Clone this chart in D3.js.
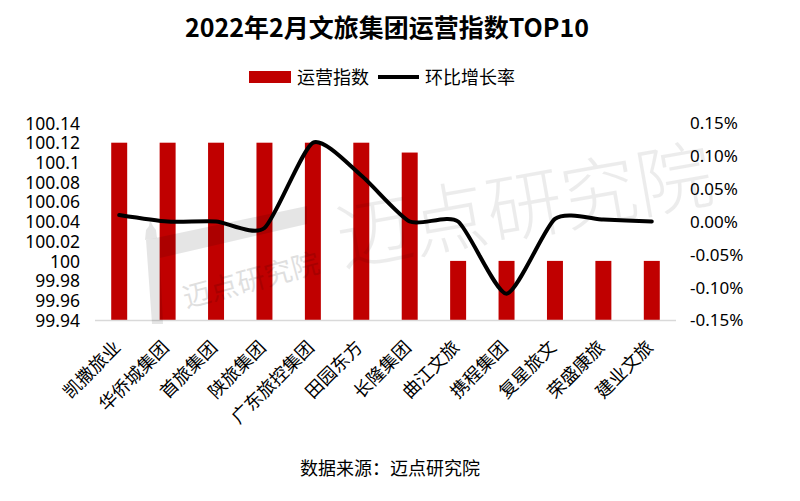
<!DOCTYPE html>
<html>
<head>
<meta charset="utf-8">
<script src="https://cdn.jsdelivr.net/npm/d3@7"></script>
<style>
  body { margin: 0; background: #fff; }
  text { font-family: "Noto Sans CJK SC", "Noto Sans", sans-serif; }
</style>
</head>
<body>
<div id="chart"></div>
<script>
// data
const categories = ["凯撒旅业", "华侨城集团", "首旅集团", "陕旅集团", "广东旅控集团", "田园东方",
  "长隆集团", "曲江文旅", "携程集团", "复星旅文", "荣盛康旅", "建业文旅"];
const indexValues = [100.12, 100.12, 100.12, 100.12, 100.12, 100.12, 100.11, 100, 100, 100, 100, 100];
const growthValues = [0.01, 0.00, 0.00, -0.01, 0.12, 0.07, 0.00, 0.00, -0.11, 0.004, 0.003, 0.00]; // in %
const leftTicks = [99.94, 99.96, 99.98, 100, 100.02, 100.04, 100.06, 100.08, 100.1, 100.12, 100.14];
const rightTicks = [-0.15, -0.10, -0.05, 0, 0.05, 0.10, 0.15];

const width = 800, height = 501;
const plot = { left: 95, right: 676, top: 123, bottom: 320 };

const svg = d3.select("#chart").append("svg")
  .attr("width", width)
  .attr("height", height);

const x = d3.scaleBand()
  .domain(categories)
  .range([plot.left, plot.right])
  .padding(0);

const barW = x.bandwidth() * 0.33;

const yL = d3.scaleLinear()
  .domain([99.94, 100.14])
  .range([plot.bottom, plot.top]);

const yR = d3.scaleLinear()
  .domain([-0.15, 0.15])
  .range([plot.bottom, plot.top]);

// title
svg.append("text")
  .attr("x", 387).attr("y", 37)
  .attr("text-anchor", "middle")
  .style("font-size", "25px")
  .style("font-weight", "bold")
  .text("2022年2月文旅集团运营指数TOP10");

// legend
const legend = svg.append("g");
legend.append("rect")
  .attr("x", 249).attr("y", 71).attr("width", 42).attr("height", 12)
  .attr("fill", "#c00000");
legend.append("text")
  .attr("x", 297).attr("y", 84)
  .style("font-size", "18px")
  .text("运营指数");
legend.append("line")
  .attr("x1", 378).attr("x2", 419).attr("y1", 77).attr("y2", 77)
  .attr("stroke", "#000").attr("stroke-width", 4);
legend.append("text")
  .attr("x", 425).attr("y", 84)
  .style("font-size", "18px")
  .text("环比增长率");

// left axis
const axL = svg.append("g")
  .attr("transform", `translate(${plot.left - 12},0)`)
  .call(d3.axisLeft(yL).tickValues(leftTicks).tickSize(0).tickFormat(d => String(+d.toFixed(2))));
axL.select(".domain").remove();
axL.selectAll("text")
  .attr("dy", "0.35em")
  .style("font-size", "17.5px")
  .style("font-family", "'Noto Sans', sans-serif")
  .attr("fill", "#000");

// right axis
const axR = svg.append("g")
  .attr("transform", `translate(${plot.right + 11},0)`)
  .call(d3.axisRight(yR).tickValues(rightTicks).tickSize(0).tickFormat(d => d.toFixed(2) + "%"));
axR.select(".domain").remove();
axR.selectAll("text")
  .attr("dy", "0.35em")
  .style("font-size", "17px")
  .style("font-family", "'Noto Sans', sans-serif")
  .attr("fill", "#000");

// bars
svg.append("g")
  .selectAll("rect")
  .data(categories)
  .join("rect")
  .attr("x", d => x(d) + (x.bandwidth() - barW) / 2)
  .attr("width", barW)
  .attr("y", (d, i) => yL(indexValues[i]))
  .attr("height", (d, i) => plot.bottom - yL(indexValues[i]))
  .attr("fill", "#c00000");

// baseline
svg.append("line")
  .attr("x1", plot.left).attr("x2", plot.right)
  .attr("y1", plot.bottom + 0.5).attr("y2", plot.bottom + 0.5)
  .attr("stroke", "#d9d9d9").attr("stroke-width", 1.5);

// growth line
const line = d3.line()
  .x((d, i) => x(categories[i]) + x.bandwidth() / 2)
  .y(d => yR(d))
  .curve(d3.curveCardinal.tension(0.35));

svg.append("path")
  .datum(growthValues)
  .attr("d", line)
  .attr("fill", "none")
  .attr("stroke", "#000")
  .attr("stroke-width", 4)
  .attr("stroke-linecap", "round");

// watermark
const wm = svg.append("g").attr("pointer-events", "none");
wm.append("path")
  .attr("d", "M146,240 L307,206 L307,224 L160,258 L163,324 L152,324 Z")
  .attr("fill", "#000").attr("opacity", 0.1);
wm.append("path")
  .attr("d", "M145,240 L146,230 L149,226 L150,220 L153,226 L156,230 L157,238 Z")
  .attr("fill", "#000").attr("opacity", 0.1);
wm.append("text")
  .attr("transform", "translate(186,308) rotate(-15)")
  .style("font-size", "28px")
  .attr("fill", "#000").attr("opacity", 0.12)
  .text("迈点研究院");
wm.append("text")
  .attr("transform", "translate(342,266) rotate(-10)")
  .style("font-size", "76px")
  .style("font-weight", "300")
  .attr("fill", "#000").attr("opacity", 0.07)
  .text("迈点研究院");

// x labels
svg.append("g")
  .selectAll("text")
  .data(categories)
  .join("text")
  .attr("transform", d => `translate(${x(d) + x.bandwidth() / 2 - 2},${plot.bottom + 24}) rotate(-45)`)
  .attr("text-anchor", "end")
  .attr("dy", "0.35em")
  .style("font-size", "18px")
  .text(d => d);

// source
svg.append("text")
  .attr("x", 390).attr("y", 475)
  .attr("text-anchor", "middle")
  .style("font-size", "18px")
  .text("数据来源：迈点研究院");
</script>
</body>
</html>
